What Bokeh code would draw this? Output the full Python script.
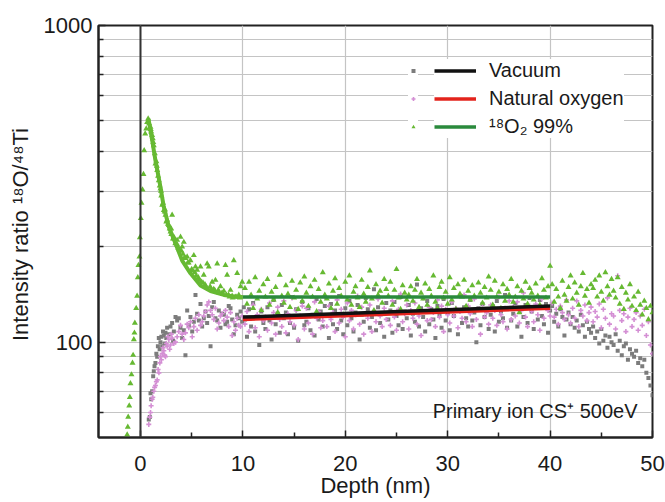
from bokeh.plotting import figure
from bokeh.models import (Range1d, FixedTicker, NumeralTickFormatter, Span,
                          Legend, LegendItem, Label)
from bokeh.embed import file_html
from bokeh.resources import INLINE

# ---------------- data ----------------
x_ticks = [0, 10, 20, 30, 40, 50]
x_minor = [5, 15, 25, 35, 45]
y_ticks = [100, 1000]
y_minor = [60, 70, 80, 90, 200, 300, 400, 500, 600, 700, 800, 900]

# 18O2 99% : rising edge and decay near the surface
o18_rise_depth = [-1.30, -1.24, -1.20, -1.10, -1.04, -0.98, -0.88, -0.78, -0.72, -0.65,
                  -0.59, -0.55, -0.42, -0.33, -0.26, -0.20, -0.10, -0.06, 0.03, 0.10,
                  0.20, 0.29, 0.36, 0.46, 0.56, 0.65, 0.75]
o18_rise_value = [51, 54, 58, 63, 67, 74, 79, 86, 91, 102,
                  107, 115, 128, 140, 160, 175, 186, 214, 246, 275,
                  303, 339, 403, 455, 472, 495, 508]
o18_decay_depth = [0.85, 0.98, 1.05, 1.14, 1.25, 1.30, 1.40, 1.46, 1.55, 1.63,
                   1.72, 1.79, 1.88, 1.95, 2.03, 2.12, 2.20, 2.28, 2.36, 2.44,
                   2.52, 2.60, 2.68, 2.77, 2.85, 2.93, 3.01, 3.09, 3.17, 3.26,
                   3.40, 3.58, 3.70, 3.91, 4.00, 4.07, 4.15, 4.23, 4.40, 4.56,
                   4.70, 4.88, 5.00, 5.21, 5.30, 5.37, 5.53, 5.65, 5.86, 5.95,
                   6.18, 6.30, 6.51, 6.67, 6.80, 7.00, 7.15, 7.32, 7.49, 7.60,
                   7.81, 7.95, 8.14, 8.30, 8.46, 8.60, 8.79, 8.95, 9.11, 9.25,
                   9.44, 9.60, 9.77, 9.93,
                   1.00, 1.20, 1.60, 2.00, 2.40, 3.00, 3.30, 3.60, 3.80, 4.30,
                   4.60, 5.10, 5.45, 5.75, 6.10, 6.40, 6.90, 7.25, 7.70, 8.05,
                   8.40, 8.70, 9.00, 9.35, 9.70]
o18_decay_value = [490, 478, 462, 450, 428, 418, 394, 366, 372, 349,
                   335, 324, 312, 305, 290, 271, 275, 261, 258, 252,
                   240, 243, 236, 234, 228, 223, 219, 252, 212, 215,
                   205, 210, 198, 215, 194, 200, 190, 207, 184, 186,
                   178, 181, 170, 188, 166, 173, 169, 160, 173, 155,
                   163, 152, 177, 173, 150, 155, 147, 157, 177, 146,
                   150, 143, 145, 175, 163, 141, 146, 140, 181, 139,
                   165, 141, 150, 155,
                   470, 440, 360, 300, 262, 228, 212, 203, 196, 185,
                   178, 168, 162, 157, 154, 150, 147, 146, 143, 142,
                   141, 139, 138, 139, 138]

# Vacuum / natural oxygen near the surface
vac_early_depth = [0.81, 0.91, 0.98, 1.05, 1.14, 1.24, 1.30, 1.37, 1.46, 1.55,
                   1.63, 1.70, 1.79, 1.87, 1.95, 2.04, 2.12, 2.20, 2.28, 2.36,
                   2.44, 2.52, 2.60, 2.77, 2.93, 3.09, 3.18, 3.26, 3.42, 3.58,
                   3.74, 3.90, 4.07, 4.23, 4.39, 4.56, 4.72, 4.88, 5.05, 5.21,
                   5.37, 5.53, 5.70, 5.86, 6.02, 6.18, 6.35, 6.51, 6.67, 6.84,
                   7.00, 7.16, 7.32, 7.49, 7.65, 7.81, 7.97, 8.14, 8.30, 8.46,
                   8.62, 8.79, 8.95, 9.11, 9.28, 9.44, 9.60, 9.77, 9.93, 10.09]
vac_early_value = [57, 58, 69, 66, 70, 78, 81, 84, 86, 92,
                   90, 97, 103, 95, 100, 104, 97, 108, 105, 99,
                   107, 103, 111, 106, 112, 115, 101, 108, 120, 117,
                   119, 111, 103, 109, 91, 126, 113, 120, 108, 116,
                   141, 123, 117, 132, 112, 119, 125, 115, 121, 97,
                   129, 134, 119, 117, 126, 111, 123, 122, 114, 116,
                   130, 128, 118, 106, 113, 122, 119, 125, 116, 129]
nat_early_depth = [0.81, 0.91, 0.98, 1.04, 1.14, 1.20, 1.30, 1.38, 1.46, 1.55,
                   1.63, 1.72, 1.80, 1.89, 1.95, 2.04, 2.12, 2.20, 2.28, 2.36,
                   2.44, 2.52, 2.60, 2.68, 2.77, 2.85, 2.93, 3.01, 3.09, 3.25,
                   3.42, 3.58, 3.74, 3.91, 4.07, 4.23, 4.39, 4.56, 4.72, 4.88,
                   5.05, 5.21, 5.37, 5.53, 5.70, 5.86, 6.02, 6.18, 6.35, 6.51,
                   6.67, 6.84, 7.00, 7.16, 7.32, 7.49, 7.65, 7.81, 7.97, 8.14,
                   8.30, 8.46, 8.62, 8.79, 8.95, 9.11, 9.28, 9.44, 9.60, 9.77,
                   9.93]
nat_early_value = [55, 58, 60, 63, 66, 67, 70, 72, 73, 75,
                   76, 82, 80, 86, 90, 88, 92, 96, 94, 91,
                   90, 99, 97, 104, 102, 95, 98, 106, 103, 99,
                   100, 104, 108, 113, 106, 102, 107, 114, 111, 116,
                   104, 112, 119, 109, 122, 113, 116, 121, 125, 131,
                   134, 126, 122, 118, 128, 110, 115, 121, 123, 117,
                   126, 120, 112, 124, 105, 116, 109, 119, 113, 112,
                   121]

# bulk region, shared depth grid (nm)
flat_depth = [10.2, 10.4, 10.6, 10.8, 11.0, 11.2, 11.4, 11.6, 11.8, 12.0,
              12.2, 12.4, 12.6, 12.8, 13.0, 13.2, 13.4, 13.6, 13.8, 14.0,
              14.2, 14.4, 14.6, 14.8, 15.0, 15.2, 15.4, 15.6, 15.8, 16.0,
              16.2, 16.4, 16.6, 16.8, 17.0, 17.2, 17.4, 17.6, 17.8, 18.0,
              18.2, 18.4, 18.6, 18.8, 19.0, 19.2, 19.4, 19.6, 19.8, 20.0,
              20.2, 20.4, 20.6, 20.8, 21.0, 21.2, 21.4, 21.6, 21.8, 22.0,
              22.2, 22.4, 22.6, 22.8, 23.0, 23.2, 23.4, 23.6, 23.8, 24.0,
              24.2, 24.4, 24.6, 24.8, 25.0, 25.2, 25.4, 25.6, 25.8, 26.0,
              26.2, 26.4, 26.6, 26.8, 27.0, 27.2, 27.4, 27.6, 27.8, 28.0,
              28.2, 28.4, 28.6, 28.8, 29.0, 29.2, 29.4, 29.6, 29.8, 30.0,
              30.2, 30.4, 30.6, 30.8, 31.0, 31.2, 31.4, 31.6, 31.8, 32.0,
              32.2, 32.4, 32.6, 32.8, 33.0, 33.2, 33.4, 33.6, 33.8, 34.0,
              34.2, 34.4, 34.6, 34.8, 35.0, 35.2, 35.4, 35.6, 35.8, 36.0,
              36.2, 36.4, 36.6, 36.8, 37.0, 37.2, 37.4, 37.6, 37.8, 38.0,
              38.2, 38.4, 38.6, 38.8, 39.0, 39.2, 39.4, 39.6, 39.8, 40.0,
              40.2, 40.4, 40.6, 40.8, 41.0, 41.2, 41.4, 41.6, 41.8, 42.0,
              42.2, 42.4, 42.6, 42.8, 43.0, 43.2, 43.4, 43.6, 43.8, 44.0,
              44.2, 44.4, 44.6, 44.8, 45.0, 45.2, 45.4, 45.6, 45.8, 46.0,
              46.2, 46.4, 46.6, 46.8, 47.0, 47.2, 47.4, 47.6, 47.8, 48.0,
              48.2, 48.4, 48.6, 48.8, 49.0, 49.2, 49.4, 49.6, 49.8, 50.0]
o18_flat_value = [148, 132, 155, 141, 128, 160, 137, 145, 126, 152,
                  139, 158, 131, 144, 136, 149, 124, 163, 140, 133,
                  151, 142, 129, 156, 138, 146, 127, 154, 135, 161,
                  143, 130, 150, 139, 157, 125, 147, 134, 166, 141,
                  137, 153, 128, 145, 159, 132, 148, 140, 122, 155,
                  136, 162, 131, 144, 150, 138, 129, 157, 142, 134,
                  149, 168, 137, 126, 152, 141, 145, 133, 158, 147,
                  140, 155, 131, 146, 170, 138, 127, 151, 143, 136,
                  141, 150, 135, 146, 158, 129, 143, 137, 153, 131,
                  147, 140, 162, 134, 128, 149, 155, 138, 144, 132,
                  160, 136, 148, 127, 152, 142, 139, 157, 130, 145,
                  136, 151, 140, 126, 154, 143, 133, 149, 138, 161,
                  146, 131, 156, 139, 144, 128, 152, 135, 147, 141,
                  158, 134, 139, 150, 124, 145, 137, 155, 132, 148,
                  143, 136, 153, 140, 131, 159, 146, 138, 150, 174,
                  152, 134, 147, 139, 128, 156, 141, 135, 149, 162,
                  137, 154, 143, 131, 150, 165, 140, 147, 133, 152,
                  148, 157, 139, 162, 144, 135, 166, 150, 141, 158,
                  145, 138, 160, 132, 149, 127, 143, 136, 152, 130,
                  139, 126, 144, 131, 122, 135, 128, 118, 130, 124]
vac_flat_value = [118, 104, 127, 112, 133, 108, 121, 98, 125, 115,
                  110, 129, 117, 102, 136, 114, 123, 107, 131, 119,
                  124, 106, 115, 139, 111, 127, 101, 120, 134, 113,
                  116, 128, 109, 122, 105, 137, 118, 125, 112, 130,
                  121, 103, 132, 114, 126, 110, 140, 117, 106, 128,
                  113, 135, 119, 108, 124, 131, 102, 122, 116, 138,
                  127, 111, 120, 147, 109, 129, 115, 123, 104, 133,
                  118, 126, 107, 134, 121, 113, 139, 110, 125, 119,
                  131, 105, 123, 116, 152, 112, 128, 120, 108, 135,
                  114, 127, 118, 103, 130, 122, 111, 137, 117, 124,
                  109, 133, 121, 126, 106, 140, 115, 129, 119, 112,
                  136, 117, 124, 100, 128, 113, 132, 120, 127, 110,
                  122, 130, 108, 135, 116, 125, 119, 141, 111, 128,
                  117, 123, 133, 112, 127, 104, 120, 131, 115, 138,
                  125, 110, 129, 118, 136, 121, 114, 132, 107, 126,
                  130, 116, 123, 112, 127, 120, 105, 118, 124, 114,
                  120, 111, 117, 108, 122, 113, 104, 116, 110, 107,
                  112, 103, 108, 99, 110, 101, 105, 96, 104, 100,
                  98, 106, 94, 101, 91, 97, 99, 88, 95, 92,
                  90, 94, 86, 89, 84, 88, 80, 77, 73, 68]
nat_flat_value = [114, 125, 108, 119, 131, 111, 122, 104, 127, 117,
                  120, 109, 133, 115, 124, 106, 129, 118, 112, 135,
                  107, 123, 116, 138, 113, 126, 102, 121, 130, 110,
                  128, 115, 121, 106, 134, 119, 125, 111, 117, 139,
                  112, 130, 118, 124, 108, 136, 115, 127, 120, 104,
                  133, 117, 126, 110, 122, 140, 114, 129, 106, 123,
                  119, 131, 108, 125, 116, 137, 121, 112, 128, 118,
                  124, 113, 135, 120, 109, 127, 142, 116, 123, 131,
                  110, 126, 119, 133, 114, 121, 105, 138, 125, 117,
                  129, 118, 124, 112, 136, 120, 130, 108, 127, 122,
                  115, 134, 121, 128, 111, 125, 119, 141, 116, 130,
                  123, 112, 137, 118, 127, 106, 132, 120, 124, 114,
                  131, 119, 126, 113, 139, 122, 116, 128, 110, 135,
                  118, 129, 121, 134, 115, 126, 143, 120, 112, 130,
                  125, 116, 132, 122, 109, 137, 119, 128, 126, 121,
                  133, 120, 127, 114, 130, 124, 118, 136, 122, 115,
                  128, 119, 135, 112, 126, 121, 131, 117, 124, 129,
                  116, 125, 120, 132, 111, 127, 119, 138, 114, 123,
                  121, 110, 162, 126, 117, 123, 108, 120, 128, 112,
                  118, 124, 109, 121, 113, 127, 105, 116, 98, 92]

# fitted lines
o18_fit_depth = [0.75, 0.81, 1.14, 1.46, 1.89, 2.28, 2.77, 3.42, 4.07, 4.88,
                 5.86, 6.84, 8.14, 9.44, 10.0]
o18_fit_value = [508, 501, 434, 375, 317, 267, 231, 205, 181, 165,
                 151, 145, 141, 139, 139]
bulk_fit_depth = [10, 40]
o18_bulk_fit = [139, 139]
vac_bulk_fit = [120, 130]
nat_bulk_fit = [118, 128]

labels = ["Vacuum", "Natural oxygen", "\u00b9\u2078O\u2082 99%"]

assert len(o18_rise_depth) == len(o18_rise_value)
assert len(o18_decay_depth) == len(o18_decay_value)
assert len(vac_early_depth) == len(vac_early_value)
assert len(nat_early_depth) == len(nat_early_value)
assert len(flat_depth) == len(o18_flat_value) == len(vac_flat_value) == len(nat_flat_value)

# ---------------- styling ----------------
FONT = "Liberation Sans"
TXT = "#1a1a1a"
GRAY = "#7c7c7c"
PINK = "#d48fd4"
GREEN = "#66b932"
DKGREEN = "#2a8a3c"
RED = "#e3231c"
GRID = "#c4c4c4"

p = figure(width=665, height=502, x_range=Range1d(-4.1, 50), y_range=Range1d(50, 1000),
           y_axis_type="log", output_backend="svg", toolbar_location=None,
           min_border_left=98, min_border_right=13, min_border_top=25, min_border_bottom=65)
p.background_fill_color = "white"
p.border_fill_color = "white"
p.outline_line_color = "#222222"
p.outline_line_width = 2
p.outline_line_alpha = 1

p.xaxis.ticker = FixedTicker(ticks=x_ticks, minor_ticks=x_minor)
p.yaxis.ticker = FixedTicker(ticks=y_ticks, minor_ticks=y_minor)
p.yaxis.formatter = NumeralTickFormatter(format="0")
p.xaxis.axis_label = "Depth (nm)"
p.yaxis.axis_label = "Intensity ratio  \u00b9\u2078O/\u2074\u2078Ti"

for ax in (p.xaxis[0], p.yaxis[0]):
    ax.axis_line_color = "#222222"
    ax.axis_line_width = 2
    ax.major_tick_in = 7
    ax.major_tick_out = 0
    ax.minor_tick_in = 5
    ax.minor_tick_out = 0
    ax.major_tick_line_color = "#222222"
    ax.minor_tick_line_color = "#222222"
    ax.major_tick_line_width = 1.5
    ax.minor_tick_line_width = 1.5
    ax.major_label_text_font = FONT
    ax.major_label_text_font_size = "22px"
    ax.major_label_text_color = TXT
    ax.axis_label_text_font = FONT
    ax.axis_label_text_font_size = "22px"
    ax.axis_label_text_font_style = "normal"
    ax.axis_label_text_color = TXT
p.xaxis.major_label_standoff = 18
p.xaxis.axis_label_standoff = -1
p.yaxis.major_label_standoff = 6
p.yaxis.axis_label_standoff = 8

p.xgrid.grid_line_color = GRID
p.ygrid.grid_line_color = GRID
p.ygrid.minor_grid_line_color = GRID
p.xgrid.grid_line_width = 1.2
p.ygrid.grid_line_width = 1.2
p.ygrid.minor_grid_line_width = 1.2

p.add_layout(Span(location=0, dimension="height", line_color="#333333", line_width=2))

r_vac = p.scatter(vac_early_depth + flat_depth, vac_early_value + vac_flat_value,
                  marker="square", size=4, fill_color=GRAY, line_color=None)
r_nat = p.scatter(nat_early_depth + flat_depth, nat_early_value + nat_flat_value,
                  marker="cross", size=5, line_color=PINK, line_width=1.6)
r_o18 = p.scatter(o18_rise_depth + o18_decay_depth + flat_depth,
                  o18_rise_value + o18_decay_value + o18_flat_value,
                  marker="triangle", size=6, fill_color=GREEN, line_color=None)

p.line(o18_fit_depth, o18_fit_value, line_color=GREEN, line_width=4)
l_o18 = p.line(bulk_fit_depth, o18_bulk_fit, line_color=DKGREEN, line_width=3.5)
l_nat = p.line(bulk_fit_depth, nat_bulk_fit, line_color=RED, line_width=3.5)
l_vac = p.line(bulk_fit_depth, vac_bulk_fit, line_color="#111111", line_width=3.5)

common = dict(label_text_font=FONT, label_text_font_size="20px", label_text_color=TXT,
              glyph_height=23, label_height=23, spacing=5, padding=8, margin=0,
              border_line_color=None, background_fill_color="white",
              background_fill_alpha=1)
leg_markers = Legend(items=[LegendItem(label=" ", renderers=[r_vac]),
                            LegendItem(label=" ", renderers=[r_nat]),
                            LegendItem(label=" ", renderers=[r_o18])],
                     location=(310, 299), glyph_width=10, label_width=0,
                     label_standoff=0, **common)
leg_lines = Legend(items=[LegendItem(label=labels[0], renderers=[l_vac]),
                          LegendItem(label=labels[1], renderers=[l_nat]),
                          LegendItem(label=labels[2], renderers=[l_o18])],
                   location=(336, 299), glyph_width=42, label_standoff=13, **common)
p.add_layout(leg_markers)
p.add_layout(leg_lines)

p.add_layout(Label(x=539, y=27, x_units="screen", y_units="screen",
                   text="Primary ion CS\u207a 500eV", text_align="right",
                   text_baseline="middle", text_font=FONT, text_font_size="20px",
                   text_color=TXT))

open("out.html", "w").write(file_html(p, INLINE))
